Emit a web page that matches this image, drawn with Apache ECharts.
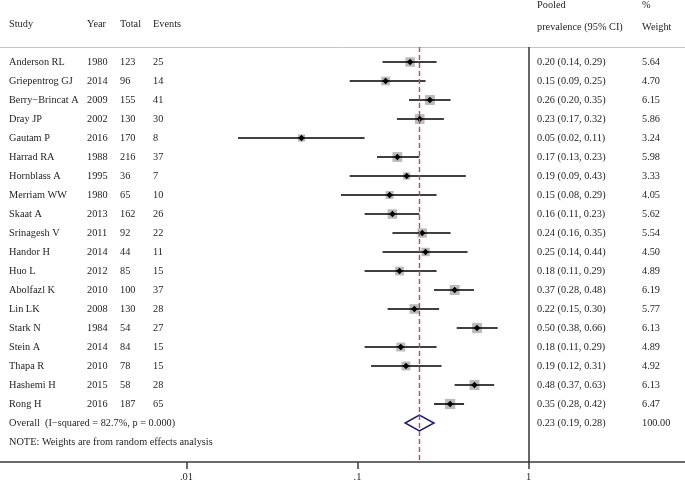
<!DOCTYPE html>
<html><head><meta charset="utf-8">
<script src="https://cdn.jsdelivr.net/npm/echarts@6/dist/echarts.min.js"></script>
<style>html,body{margin:0;padding:0;background:#fff}#c{width:685px;height:483px}</style>
</head><body><div id="c"></div>
<script>
const studies = ['Anderson RL','Griepentrog GJ','Berry\u2212Brincat A','Dray JP','Gautam P','Harrad RA','Hornblass A','Merriam WW','Skaat A','Srinagesh V','Handor H','Huo L','Abolfazl K','Lin LK','Stark N','Stein A','Thapa R','Hashemi H','Rong H'];
const years = [1980,2014,2009,2002,2016,1988,1995,1980,2013,2011,2014,2012,2010,2008,1984,2014,2010,2015,2016];
const totals = [123,96,155,130,170,216,36,65,162,92,44,85,100,130,54,84,78,58,187];
const events = [25,14,41,30,8,37,7,10,26,22,11,15,37,28,27,15,15,28,65];
const prevLabel = ['0.20','0.15','0.26','0.23','0.05','0.17','0.19','0.15','0.16','0.24','0.25','0.18','0.37','0.22','0.50','0.18','0.19','0.48','0.35'];
const pointEst = [0.203,0.146,0.265,0.231,0.047,0.171,0.194,0.154,0.160,0.239,0.250,0.176,0.370,0.215,0.500,0.179,0.192,0.483,0.348];
const ciLow = [0.14,0.09,0.20,0.17,0.02,0.13,0.09,0.08,0.11,0.16,0.14,0.11,0.28,0.15,0.38,0.11,0.12,0.37,0.28];
const ciHigh = [0.29,0.25,0.35,0.32,0.11,0.23,0.43,0.29,0.23,0.35,0.44,0.29,0.48,0.30,0.66,0.29,0.31,0.63,0.42];
const weights = [5.64,4.70,6.15,5.86,3.24,5.98,3.33,4.05,5.62,5.54,4.50,4.89,6.19,5.77,6.13,4.89,4.92,6.13,6.47];
const overallLabel = 'Overall  (I\u2212squared = 82.7%, p = 0.000)';
const overallEst = 0.23, overallLow = 0.19, overallHigh = 0.28;
const overallWeight = '100.00';
const noteText = 'NOTE: Weights are from random effects analysis';
const tickValues = [0.01, 0.1, 1];
const tickLabels = ['.01', '.1', '1'];

const FONT = '10.3px "Liberation Serif", "Times New Roman", serif';
const TXT = '#1e1e1e';
const COL = {study: 9, year: 87, total: 120, events: 153, ci: 537, weight: 642};

function txt(x, y, s) {
  return {type: 'text', x: x, y: y, style: {text: s, fill: TXT, font: FONT, align: 'left', verticalAlign: 'middle'}};
}

const studyData = studies.map((s, i) => [i, pointEst[i], ciLow[i], ciHigh[i], weights[i]]);

const chart = echarts.init(document.getElementById('c'), null, {renderer: 'canvas'});
chart.setOption({
  animation: false,
  backgroundColor: '#fff',
  grid: {left: 0, right: 0, top: 47, bottom: 21},
  xAxis: [{
    type: 'log', logBase: 10, min: 0.000811, max: 8.228,
    position: 'bottom',
    axisLine: {show: true, onZero: false, lineStyle: {color: '#3a3a3a', width: 1.5}},
    axisTick: {show: true, customValues: tickValues, length: 7, inside: false, lineStyle: {color: '#3a3a3a', width: 1.5}},
    axisLabel: {show: true, customValues: tickValues, margin: 10,
      formatter: v => { const k = tickValues.findIndex(t => Math.abs(Math.log10(t) - Math.log10(v)) < 1e-6); return k >= 0 ? tickLabels[k] : ''; },
      fontFamily: '"Liberation Serif", serif', fontSize: 10.5, color: TXT},
    splitLine: {show: false}, minorTick: {show: false}
  }, {
    type: 'value', position: 'top', min: 0, max: 1,
    axisLine: {show: true, onZero: false, lineStyle: {color: '#c4c4c4', width: 1}},
    axisTick: {show: false}, axisLabel: {show: false}, splitLine: {show: false}
  }],
  yAxis: {type: 'value', inverse: true, min: -15 / 19, max: 400 / 19, show: false},
  series: [
    {
      type: 'scatter', xAxisIndex: 0, symbolSize: 0, data: [[overallEst, studies.length]], silent: true,
      markLine: {
        symbol: 'none', silent: true, label: {show: false},
        data: [
          {xAxis: overallEst, lineStyle: {color: '#a8525e', type: [5, 3], width: 1.4}},
          {xAxis: 1, lineStyle: {color: '#333', type: 'solid', width: 1.5}}
        ]
      }
    },
    {
      type: 'custom', xAxisIndex: 0, data: studyData,
      encode: {x: [1, 2, 3], y: 0},
      renderItem: (params, api) => {
        const i = api.value(0);
        const pE = api.coord([api.value(1), i]);
        const pL = api.coord([api.value(2), i]);
        const pH = api.coord([api.value(3), i]);
        const s = 4.0 * Math.sqrt(api.value(4));
        const y = pE[1];
        const d = 3.2;
        return {type: 'group', children: [
          {type: 'rect', shape: {x: pE[0] - s / 2, y: y - s / 2, width: s, height: s}, style: {fill: '#bababa'}},
          {type: 'line', shape: {x1: pL[0], y1: y, x2: pH[0], y2: y}, style: {stroke: '#000', lineWidth: 1.6}},
          {type: 'polygon', shape: {points: [[pE[0] - d, y], [pE[0], y - d], [pE[0] + d, y], [pE[0], y + d]]}, style: {fill: '#000'}},
          txt(COL.study, y, studies[i]),
          txt(COL.year, y, String(years[i])),
          txt(COL.total, y, String(totals[i])),
          txt(COL.events, y, String(events[i])),
          txt(COL.ci, y, prevLabel[i] + ' (' + ciLow[i].toFixed(2) + ', ' + ciHigh[i].toFixed(2) + ')'),
          txt(COL.weight, y, weights[i].toFixed(2))
        ]};
      }
    },
    {
      type: 'custom', xAxisIndex: 0, data: [[studies.length, overallEst, overallLow, overallHigh]],
      encode: {x: [1, 2, 3], y: 0},
      renderItem: (params, api) => {
        const i = api.value(0);
        const pE = api.coord([api.value(1), i]);
        const pL = api.coord([api.value(2), i]);
        const pH = api.coord([api.value(3), i]);
        const y = pE[1], h = 8;
        const yNote = api.coord([1, i + 1])[1];
        return {type: 'group', children: [
          {type: 'polygon', shape: {points: [[pL[0], y], [pE[0], y - h], [pH[0], y], [pE[0], y + h]]}, style: {fill: 'none', stroke: '#1c1c6e', lineWidth: 1.5}},
          txt(COL.study, y, overallLabel),
          txt(COL.ci, y, overallEst.toFixed(2) + ' (' + overallLow.toFixed(2) + ', ' + overallHigh.toFixed(2) + ')'),
          txt(COL.weight, y, overallWeight),
          txt(COL.study, yNote, noteText)
        ]};
      }
    }
  ],
  graphic: [
    txt(COL.study, 24, 'Study'),
    txt(COL.year, 24, 'Year'),
    txt(COL.total, 24, 'Total'),
    txt(COL.events, 24, 'Events'),
    txt(COL.ci, 5, 'Pooled'),
    txt(COL.ci, 27, 'prevalence (95% CI)'),
    txt(COL.weight, 5, '%'),
    txt(COL.weight, 27, 'Weight')
  ]
});
</script>
</body></html>
